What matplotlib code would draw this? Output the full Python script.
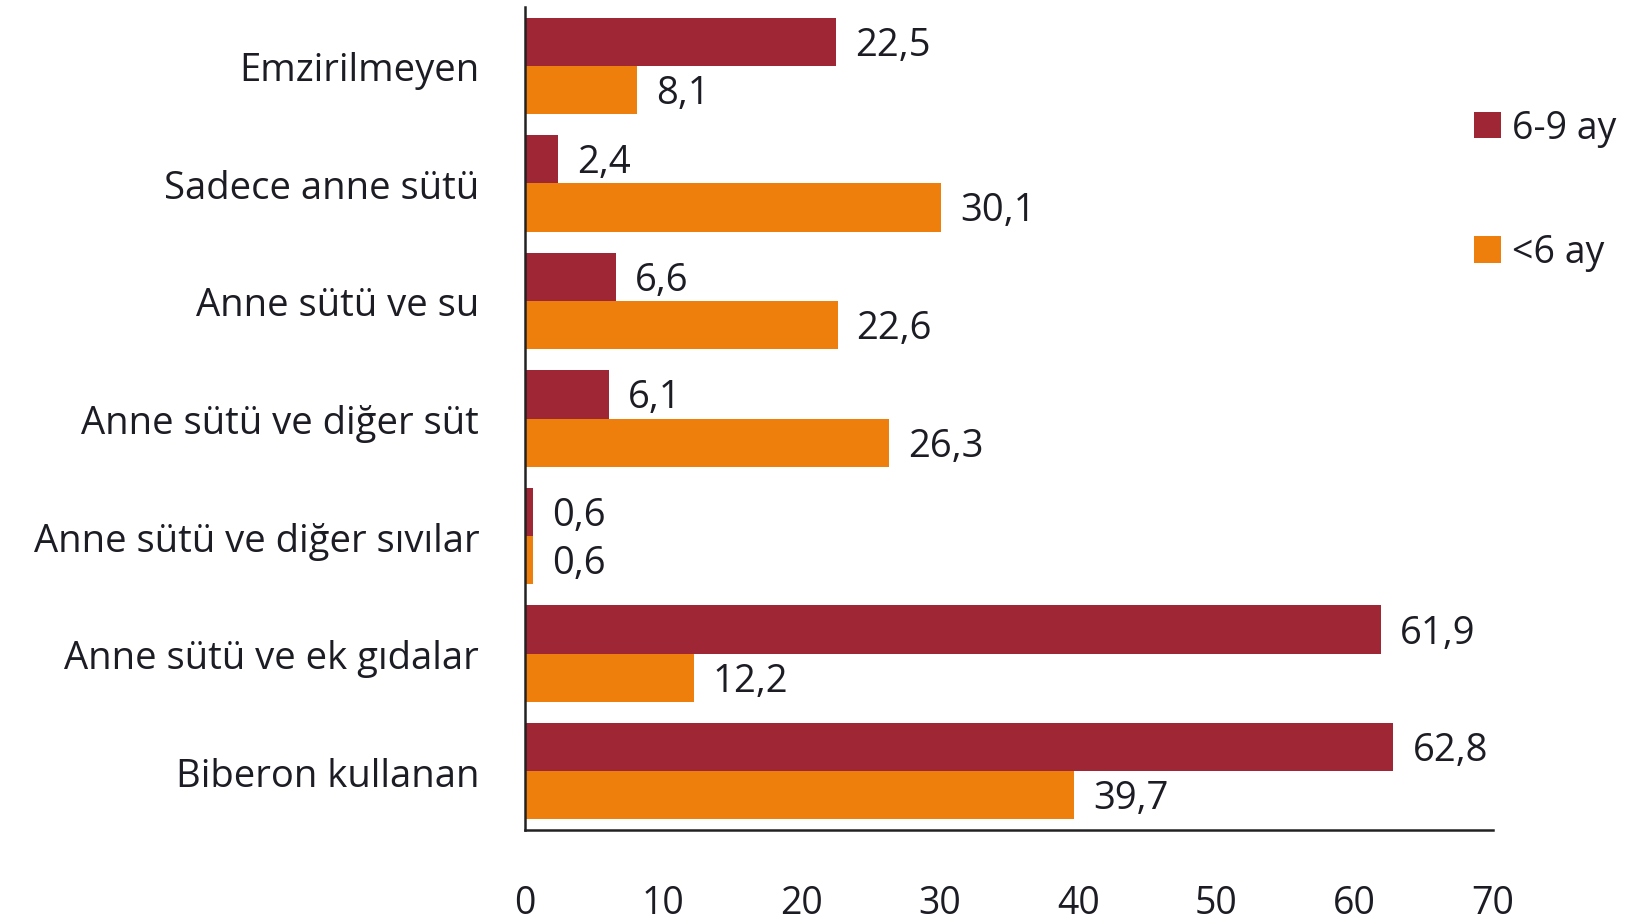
import matplotlib
matplotlib.use("Agg")
import matplotlib.pyplot as plt
import numpy as np

plt.rcParams['font.family'] = ['Open Sans', 'DejaVu Sans']

categories = ["Emzirilmeyen", "Sadece anne sütü", "Anne sütü ve su",
              "Anne sütü ve diğer süt", "Anne sütü ve diğer sıvılar",
              "Anne sütü ve ek gıdalar", "Biberon kullanan"]
series_names = ["6-9 ay", "<6 ay"]
values_6_9 = [22.5, 2.4, 6.6, 6.1, 0.6, 61.9, 62.8]
values_lt6 = [8.1, 30.1, 22.6, 26.3, 0.6, 12.2, 39.7]
xticks = [0, 10, 20, 30, 40, 50, 60, 70]

colors = ["#9E2635", "#EF7F0C"]
txt = "#1c1c24"
fs = 27.5

fig = plt.figure(figsize=(16.45, 9.2), dpi=100)
ax = fig.add_axes([525/1645, 1-831/920, (1493-525)/1645, (831-8)/920])

y = np.arange(len(categories))
h = 0.41
b1 = ax.barh(y - h/2, values_6_9, height=h, color=colors[0], label=series_names[0])
b2 = ax.barh(y + h/2, values_lt6, height=h, color=colors[1], label=series_names[1])

for bars, vals in ((b1, values_6_9), (b2, values_lt6)):
    for rect, v in zip(bars, vals):
        ax.annotate(f"{v:.1f}".replace(".", ","),
                    xy=(rect.get_width(), rect.get_y() + rect.get_height()/2),
                    xytext=(19, -3), textcoords="offset pixels",
                    va="center", ha="left", fontsize=fs, color=txt)

ax.set_xlim(0, 70)
ax.set_ylim(6.5, -0.5)
ax.set_xticks(xticks)
ax.set_xticklabels([str(t) for t in xticks], fontsize=27, color=txt)
ax.set_yticks(y)
ax.set_yticklabels(categories, fontsize=fs, color=txt)
ax.tick_params(axis='x', length=0, pad=39)
ax.tick_params(axis='y', length=0, pad=33)
for s in ("top", "right"):
    ax.spines[s].set_visible(False)
for s in ("left", "bottom"):
    ax.spines[s].set_linewidth(1.8)
    ax.spines[s].set_color("#222222")

fig.legend(handles=[b1, b2], labels=series_names, loc="upper left",
           bbox_to_anchor=(1474/1645, 1-110/920), frameon=False, fontsize=27,
           handlelength=0.72, handleheight=0.72, handletextpad=0.3,
           labelspacing=2.3, labelcolor=txt, borderpad=0, borderaxespad=0)

fig.savefig("out.png", dpi=100)
